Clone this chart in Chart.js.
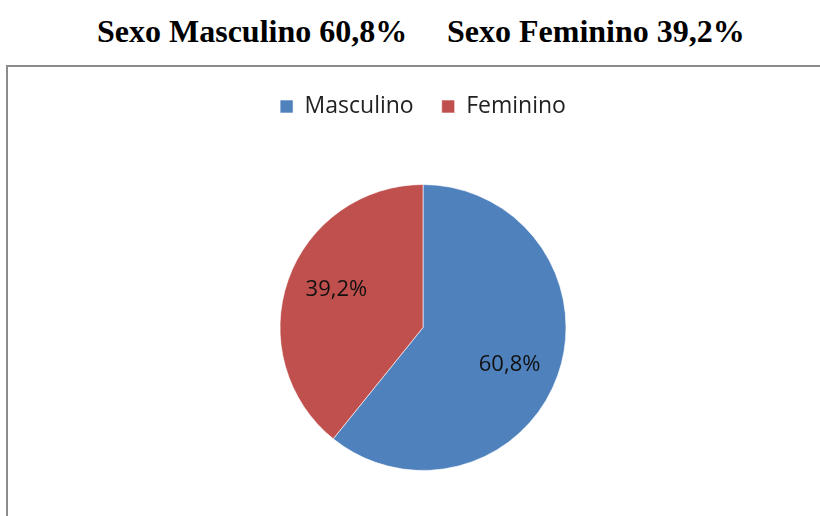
<!DOCTYPE html>
<html>
<head>
<meta charset="utf-8">
<script src="https://cdn.jsdelivr.net/npm/chart.js@4/dist/chart.umd.min.js"></script>
<style>
  html, body { margin: 0; padding: 0; background: #fff; }
  body { width: 820px; height: 516px; overflow: hidden; position: relative; }
  .title {
    position: absolute; top: 15px; line-height: 32px; white-space: pre;
    font-family: "Liberation Serif", "Times New Roman", serif;
    font-weight: bold; font-size: 32px; color: #000;
  }
  .box {
    position: absolute; left: 6px; top: 65px; width: 1000px; height: 600px;
    border: 2px solid #8c8c8c;
  }
  .box canvas { position: absolute; left: 0; top: 0; }
</style>
</head>
<body>
<div class="title" id="t1" style="left:97px"></div>
<div class="title" id="t2" style="left:447px"></div>
<div class="box">
  <canvas id="chart" width="830" height="480" style="width:830px;height:480px"></canvas>
</div>
<script>
// data
const categories = ["Masculino", "Feminino"];
const values = [60.8, 39.2];
const colors = ["#4F81BD", "#C0504D"];

const fmt = v => v.toFixed(1).replace(".", ",") + "%";

// title
document.querySelector("#t1").textContent = "Sexo " + categories[0] + " " + fmt(values[0]);
document.querySelector("#t2").textContent = "Sexo " + categories[1] + " " + fmt(values[1]);

// labels inside slices
const sliceLabels = {
  id: "sliceLabels",
  afterDatasetsDraw(chart) {
    const ctx = chart.ctx;
    const meta = chart.getDatasetMeta(0);
    ctx.save();
    ctx.font = "22px 'Open Sans'";
    ctx.fillStyle = "#111";
    ctx.textAlign = "center";
    ctx.textBaseline = "middle";
    meta.data.forEach((arc, i) => {
      const p = arc.getProps(["x", "y", "startAngle", "endAngle", "outerRadius"], true);
      // nudge toward the bottom a little, like the office chart does
      const mid = (p.startAngle + p.endAngle) / 2 + 0.07;
      const r = p.outerRadius * 0.66;
      ctx.fillText(fmt(values[i]), p.x + Math.cos(mid) * r, p.y + Math.sin(mid) * r);
    });
    ctx.restore();
  }
};

const chart = document.querySelector("#chart").getContext("2d");

new Chart(chart, {
  type: "pie",
  data: {
    labels: categories,
    datasets: [
      {
        data: values,
        backgroundColor: colors,
        borderColor: "rgba(255,255,255,0.6)",
        borderWidth: 1,
      }
    ]
  },
  options: {
    responsive: false,
    animation: false,
    radius: 143,
    layout: { padding: { top: 0, bottom: 20 } },
    plugins: {
      legend: {
        position: "top",
        labels: {
          font: { family: "Open Sans", size: 23 },
          color: "#222",
          boxWidth: 13,
          boxHeight: 13,
          padding: 28,
        }
      },
      tooltip: { enabled: false },
    }
  },
  plugins: [sliceLabels]
});
</script>
</body>
</html>
